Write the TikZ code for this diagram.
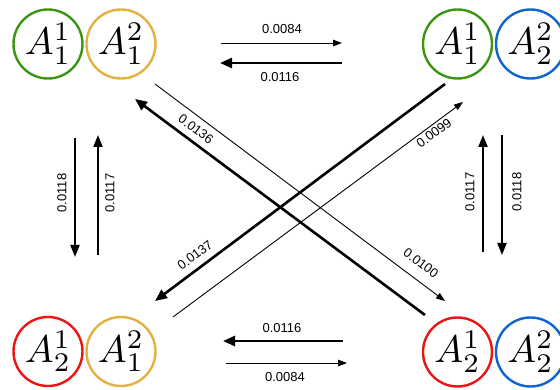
\documentclass[tikz,border=0pt]{standalone}
\usepackage{fontspec}
\usepackage{graphicx}
\setsansfont{Liberation Sans}
\usetikzlibrary{arrows.meta}
\definecolor{cgreen}{RGB}{60,150,20}
\definecolor{cgold}{RGB}{225,178,65}
\definecolor{cblue}{RGB}{15,100,210}
\definecolor{cred}{RGB}{235,20,20}
\newcommand{\bigA}[2]{\scalebox{3.85}{$A^{#1}_{#2}$}}
\begin{document}
\begin{tikzpicture}[x=1pt,y=-1pt,
  st/.style={circle,draw,line width=2.4pt,minimum size=69pt,inner sep=0pt},
  thinarr/.style={line width=0.9pt,-{Triangle[length=9pt,width=6.5pt]}},
  thickarr/.style={line width=2.6pt,-{Triangle[length=12pt,width=10pt]}},
  midarr/.style={line width=2pt,-{Triangle[length=12pt,width=9pt]}},
  lab/.style={font=\sffamily\fontsize{13}{15}\selectfont,inner sep=0pt}]
\useasboundingbox (0,0) rectangle (560,390);
% states
\node[st,draw=cgreen] (a1) at (48,44) {\bigA{1}{1}};
\node[st,draw=cgold]  (a2) at (121,44) {\bigA{2}{1}};
\node[st,draw=cgreen] (b1) at (457.5,44) {\bigA{1}{1}};
\node[st,draw=cblue]  (b2) at (530.5,44) {\bigA{2}{2}};
\node[st,draw=cred]   (c1) at (48,351.5) {\bigA{1}{2}};
\node[st,draw=cgold]  (c2) at (121,351.5) {\bigA{2}{1}};
\node[st,draw=cred]   (d1) at (457.5,352) {\bigA{1}{2}};
\node[st,draw=cblue]  (d2) at (530.5,352) {\bigA{2}{2}};
% endpoints
\coordinate (t1s) at (221,43);  \coordinate (t1e) at (342,43);
\coordinate (t2s) at (342,63);  \coordinate (t2e) at (220,63);
\coordinate (b1s) at (343,341); \coordinate (b1e) at (223,341);
\coordinate (b2s) at (226,363); \coordinate (b2e) at (347,363);
\coordinate (l1s) at (75,138);  \coordinate (l1e) at (75,257);
\coordinate (l2s) at (98,255);  \coordinate (l2e) at (98,135);
\coordinate (r1s) at (483,252); \coordinate (r1e) at (483,135);
\coordinate (r2s) at (502,135); \coordinate (r2e) at (502,255);
\coordinate (x1s) at (425,315); \coordinate (x1e) at (135,99);
\coordinate (x2s) at (155,84);  \coordinate (x2e) at (445,301);
\coordinate (y1s) at (445,84);  \coordinate (y1e) at (155,301);
\coordinate (y2s) at (173,317); \coordinate (y2e) at (463,102);
% arrows
\draw[thinarr]  (t1s) -- (t1e);
\draw[thickarr] (t2s) -- (t2e);
\draw[thickarr] (b1s) -- (b1e);
\draw[thinarr]  (b2s) -- (b2e);
\draw[midarr]   (l1s) -- (l1e);
\draw[midarr]   (l2s) -- (l2e);
\draw[midarr]   (r1s) -- (r1e);
\draw[midarr]   (r2s) -- (r2e);
\draw[thickarr] (x1s) -- (x1e);
\draw[thinarr]  (x2s) -- (x2e);
\draw[thickarr] (y1s) -- (y1e);
\draw[thinarr]  (y2s) -- (y2e);
% labels
\node[lab] (lt1) at (282,29) {0.0084};
\node[lab] (lt2) at (280,77) {0.0116};
\node[lab] (lb1) at (282,328) {0.0116};
\node[lab] (lb2) at (285,377) {0.0084};
\node[lab,rotate=90] (ll1) at (62,193) {0.0118};
\node[lab,rotate=90] (ll2) at (110,193) {0.0117};
\node[lab,rotate=90] (lr1) at (470,192) {0.0117};
\node[lab,rotate=90] (lr2) at (517,192) {0.0118};
\node[lab,rotate=-36.7] (lx1) at (196,129) {0.0136};
\node[lab,rotate=-36.7] (lx2) at (421,263) {0.0100};
\node[lab,rotate=36.7] (ly1) at (195,255) {0.0137};
\node[lab,rotate=36.7] (ly2) at (434,133) {0.0099};
\end{tikzpicture}
\end{document}
